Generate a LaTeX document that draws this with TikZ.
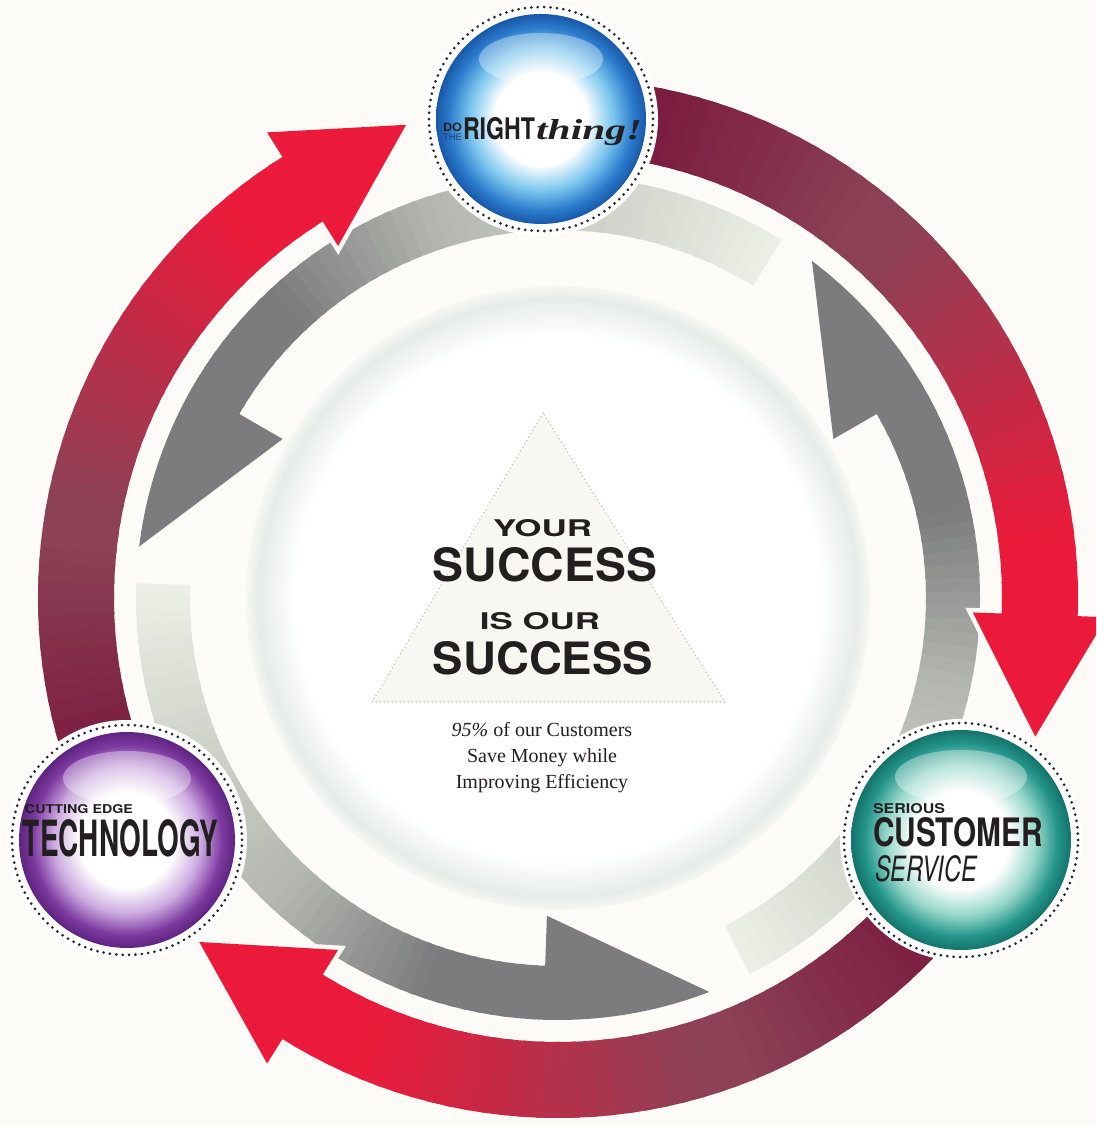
\documentclass[tikz,border=0pt]{standalone}
\usepackage{fontspec}
\usepackage{graphicx}
\newfontfamily\headfont{TeX Gyre Heros}
\newfontfamily\textserif{Liberation Serif}

\definecolor{paper}{HTML}{FCFBF8}
\definecolor{ink}{HTML}{231F20}
\definecolor{tailred}{HTML}{7A1A3E}
\definecolor{midred}{HTML}{8C4156}
\definecolor{headred}{HTML}{EC1A3A}
\definecolor{tailgray}{HTML}{EBEEE5}
\definecolor{midgray}{HTML}{B3B6AE}
\definecolor{headgray}{HTML}{7C7C7E}
\definecolor{ringpale}{HTML}{F6F7F2}
\definecolor{diskrim}{HTML}{E6ECEA}
\definecolor{trifill}{HTML}{F8F7F1}
\definecolor{tridot}{HTML}{C2C2BA}
\definecolor{bluemid}{HTML}{7CC6EE}
\definecolor{blueedge}{HTML}{2A7ACB}
\definecolor{bluedark}{HTML}{1A58A8}
\definecolor{purplemid}{HTML}{CDAAE0}
\definecolor{purpleedge}{HTML}{7D3AA0}
\definecolor{purpledark}{HTML}{5E2480}
\definecolor{tealmid}{HTML}{98D8CB}
\definecolor{tealedge}{HTML}{23948A}
\definecolor{tealdark}{HTML}{14736B}
\definecolor{thedark}{HTML}{22406E}

\pgfdeclareradialshading{blueball}{\pgfpoint{0bp}{0bp}}{color(0bp)=(white); color(11bp)=(white); color(17bp)=(bluemid); color(22bp)=(blueedge); color(25bp)=(bluedark); color(50bp)=(bluedark)}
\pgfdeclareradialshading{purpleball}{\pgfpoint{0bp}{0bp}}{color(0bp)=(white); color(11bp)=(white); color(17bp)=(purplemid); color(22bp)=(purpleedge); color(25bp)=(purpledark); color(50bp)=(purpledark)}
\pgfdeclareradialshading{tealball}{\pgfpoint{0bp}{0bp}}{color(0bp)=(white); color(11bp)=(white); color(17bp)=(tealmid); color(22bp)=(tealedge); color(25bp)=(tealdark); color(50bp)=(tealdark)}
\pgfdeclareradialshading{middisk}{\pgfpoint{0bp}{0bp}}{color(0bp)=(white); color(21bp)=(white); color(24bp)=(diskrim); color(25bp)=(ringpale); color(50bp)=(ringpale)}

\tikzset{
  bubble/.style={circle, inner sep=0pt, minimum size=#1, shade},
  dotring/.style={draw=black!85, line width=3pt, dash pattern=on 0pt off 6.4pt, line cap=round},
  gloss/.style={fill=white, opacity=0.35},
  word/.style={inner sep=0pt, text=ink},
  blurb/.style={inner sep=0pt, text=ink, anchor=base, font=\textserif\fontsize{20}{26}\selectfont},
  tri/.style={fill=trifill, draw=tridot, line width=1.6pt, dash pattern=on 0pt off 4pt, line cap=round}
}

\newcommand{\fitword}[3]{\resizebox{#1pt}{#2pt}{#3}}

% red band, clockwise: tail angle, head angle
\newcommand{\redarrow}[2]{%
  \fill[paper, draw=paper, line width=9pt] (#1:444) arc[start angle=#1, end angle=#2, radius=444]
    -- (#2:415) -- ({#2-14.2}:497) -- (#2:549) -- (#2:520) arc[start angle=#2, end angle=#1, radius=520] -- cycle;
  \foreach \i in {0,...,47}{
    \pgfmathsetmacro\aa{#1+(#2-#1)*\i/48}
    \pgfmathsetmacro\ab{#1+(#2-#1)*(\i+1.4)/48}
    \pgfmathsetmacro\pa{min(100,max(0,(\i/47-0.15)/0.30*100))}
    \pgfmathsetmacro\pb{min(100,max(0,(\i/47-0.5)/0.42*100))}
    \colorlet{segA}{midred!\pa!tailred}
    \colorlet{segB}{headred!\pb!segA}
    \fill[segB] (\aa:444) arc[start angle=\aa, end angle=\ab, radius=444]
      -- (\ab:520) arc[start angle=\ab, end angle=\aa, radius=520] -- cycle;
  }
  \fill[headred] (#2:415) -- ({#2-14.2}:497) -- (#2:549) -- cycle;
}

% gray band, counterclockwise: tail angle, head angle
\newcommand{\grayarrow}[2]{%
  \foreach \i in {0,...,47}{
    \pgfmathsetmacro\aa{#1+(#2-#1)*\i/48}
    \pgfmathsetmacro\ab{#1+(#2-#1)*(\i+1.4)/48}
    \pgfmathsetmacro\pa{min(100,max(0,(\i/47)/0.55*100))}
    \pgfmathsetmacro\pb{min(100,max(0,(\i/47-0.55)/0.27*100))}
    \colorlet{segA}{midgray!\pa!tailgray}
    \colorlet{segB}{headgray!\pb!segA}
    \fill[segB] (\aa:368) arc[start angle=\aa, end angle=\ab, radius=368]
      -- (\ab:422) arc[start angle=\ab, end angle=\aa, radius=422] -- cycle;
  }
  \fill[headgray] (#2:422) -- (#2:318) -- ({#2+23}:422) arc[start angle={#2+23}, end angle=#2, radius=422] -- cycle;
}

\begin{document}
\begin{tikzpicture}[x=1pt, y=1pt]

  \useasboundingbox (0,0) rectangle (1096,1126);
  \fill[paper] (0,0) rectangle (1096,1126);
  \clip (0,0) rectangle (1096,1126);

  % Ring of arrows
  \begin{scope}[shift={(558,528)}]
    \shade[shading=middisk] (0,0) circle (312);
    \grayarrow{58}{150}
    \grayarrow{178}{268}
    \grayarrow{-63}{30}
    \redarrow{215}{122}
    \redarrow{95}{-2}
    \redarrow{335}{238}
  \end{scope}

  % Centre
  \filldraw[tri] (543,713) -- (372,424) -- (725,424) -- cycle;
  \node[word] (your) at (542.5,597.5) {\fitword{99}{17}{\headfont\bfseries YOUR}};
  \node[word] (succa) at (545,561) {\fitword{224}{34}{\headfont\bfseries SUCCESS}};
  \node[word] (isour) at (540,504.5) {\fitword{120}{17}{\headfont\bfseries IS OUR}};
  \node[word] (succb) at (543,467.5) {\fitword{220}{33}{\headfont\bfseries SUCCESS}};
  \node[blurb] (linea) at (542,389) {\textit{95\%} of our Customers};
  \node[blurb] (lineb) at (542,363) {Save Money while};
  \node[blurb] (linec) at (542,337) {Improving Efficiency};

  % Define nodes
  \fill[white] (541,1007) circle (117);
  \node[bubble=210pt, shading=blueball] (doright) at (541,1007) {};
  \fill[gloss] ([yshift=60pt]doright.center) ellipse [x radius=62, y radius=26];
  \draw[dotring] (doright) circle (112);

  \fill[white] (127,286) circle (120);
  \node[bubble=216pt, shading=purpleball] (tech) at (127,286) {};
  \fill[gloss] ([yshift=62pt]tech.center) ellipse [x radius=64, y radius=27];
  \draw[dotring] (tech) circle (115);

  \fill[white] (961,286) circle (121);
  \node[bubble=220pt, shading=tealball] (cust) at (961,286) {};
  \fill[gloss] ([yshift=63pt]cust.center) ellipse [x radius=66, y radius=27];
  \draw[dotring] (cust) circle (117);

  % Bubble texts
  \node[word] (do) at (452.5,999) {\fitword{19}{8.5}{\headfont\bfseries DO}};
  \node[word, text=thedark] (the) at (452.5,988.5) {\fitword{19}{6.5}{\headfont THE}};
  \node[word] (rt) at (499,997) {\fitword{72}{22}{\headfont\bfseries RIGHT}};
  \node[word, anchor=base west] (thing) at (536,986) {\fitword{106}{20}{\textserif\bfseries\itshape thing!}};

  \node[word] (cutting) at (79,316.5) {\fitword{108}{9}{\headfont\bfseries CUTTING EDGE}};
  \node[word] (techno) at (120.5,287.5) {\fitword{195}{37}{\headfont\bfseries TECHNOLOGY}};

  \node[word] (serious) at (909,317) {\fitword{72}{10}{\headfont\bfseries SERIOUS}};
  \node[word] (custom) at (958,294) {\fitword{170}{29}{\headfont\bfseries CUSTOMER}};
  \node[word] (service) at (926,257) {\fitword{102}{26}{\headfont\itshape SERVICE}};

\end{tikzpicture}
\end{document}
